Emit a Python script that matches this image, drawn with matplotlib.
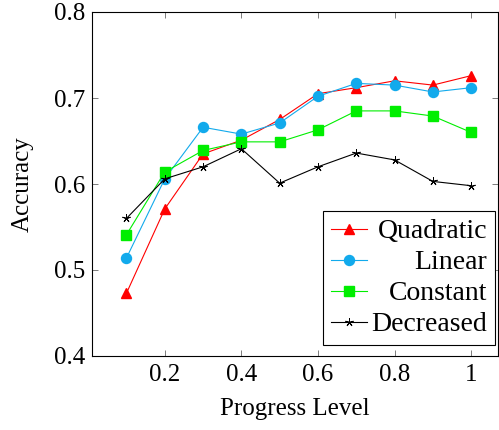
"""Accuracy vs progress level for four schedules."""

import matplotlib

matplotlib.use("Agg")

import matplotlib.pyplot as plt

progress = [0.1, 0.2, 0.3, 0.4, 0.5, 0.6, 0.7, 0.8, 0.9, 1.0]
quadratic = [0.473, 0.571, 0.635, 0.651, 0.675, 0.705, 0.712, 0.720, 0.715, 0.726]
linear = [0.514, 0.606, 0.666, 0.658, 0.671, 0.702, 0.717, 0.715, 0.707, 0.712]
constant = [0.541, 0.614, 0.639, 0.649, 0.649, 0.663, 0.685, 0.685, 0.679, 0.660]
decreased = [0.560, 0.606, 0.620, 0.641, 0.601, 0.620, 0.636, 0.628, 0.603, 0.598]

x_ticks = [0.2, 0.4, 0.6, 0.8, 1.0]
x_tick_labels = ["0.2", "0.4", "0.6", "0.8", "1"]
y_ticks = [0.4, 0.5, 0.6, 0.7, 0.8]

FS = 18
LEG_FS = 20
plt.rcParams["font.family"] = ["Liberation Serif", "DejaVu Serif"]

fig = plt.figure(figsize=(4.99, 4.30), dpi=100)
ax = fig.add_axes([92 / 499, 1 - 356 / 430, 406 / 499, 344 / 430])

ax.plot(progress, quadratic, color="#ff0000", marker="^", markersize=6.5, linewidth=0.8, label="Quadratic")
ax.plot(progress, linear, color="#12aaec", marker="o", markersize=7.2, linewidth=0.8, label="Linear")
ax.plot(progress, constant, color="#00ee00", marker="s", markersize=6.8, linewidth=0.8, label="Constant")
ax.plot(progress, decreased, color="black", marker=(5, 2, 0), markersize=6, markeredgewidth=0.7,
        linewidth=0.8, label="Decreased")

ax.set_xlim(0.01, 1.07)
ax.set_ylim(0.4, 0.8)
ax.set_xticks(x_ticks, x_tick_labels)
ax.set_yticks(y_ticks)
ax.tick_params(direction="in", top=True, right=True, labelsize=FS, length=4, width=0.6, color="#666666")
ax.tick_params(axis="x", pad=6)
ax.tick_params(axis="y", pad=5)
for spine in ax.spines.values():
    spine.set_linewidth(0.8)
ax.set_xlabel("Progress Level", fontsize=FS)
ax.set_ylabel("Accuracy", fontsize=FS)
ax.xaxis.set_label_coords(0.5, -0.122)
ax.yaxis.set_label_coords(-0.143, 0.5)

leg = ax.legend(loc="lower right", bbox_to_anchor=(495 / 499, 1 - 345 / 430), bbox_transform=fig.transFigure,
                fontsize=LEG_FS, numpoints=1, handlelength=1.3, fancybox=False, edgecolor="black",
                framealpha=1, borderpad=0.28, labelspacing=0.2, handletextpad=0.15, borderaxespad=0)
leg.get_frame().set_linewidth(0.8)

# right-align the legend labels: hide the originals and redraw them flush right
fig.canvas.draw()
renderer = fig.canvas.get_renderer()
inv = fig.transFigure.inverted()
boxes = [t.get_window_extent(renderer) for t in leg.get_texts()]
right = max(b.x1 for b in boxes)
for t, b in zip(leg.get_texts(), boxes):
    t.set_visible(False)
    x, y = inv.transform((right, b.y0))
    fig.text(x, y, t.get_text(), fontsize=LEG_FS, ha="right", va="bottom", zorder=10)

fig.savefig("out.png", dpi=100)
plt.close(fig)
